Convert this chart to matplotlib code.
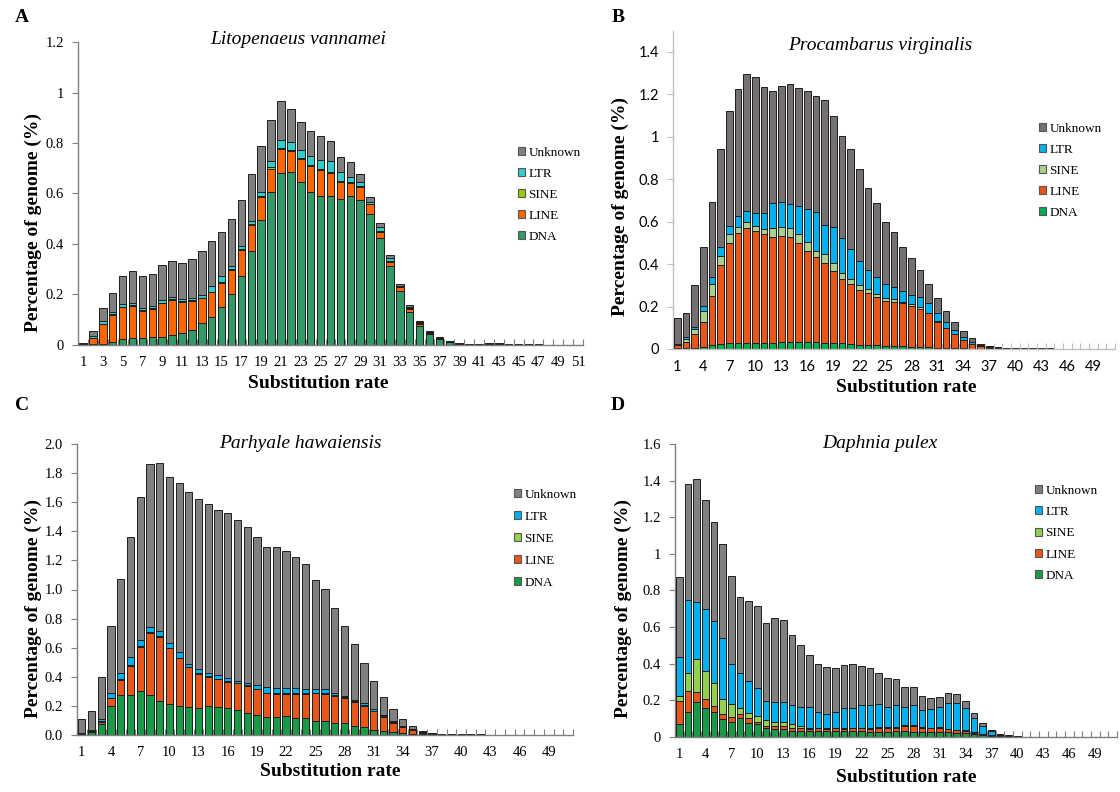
import numpy as np
import matplotlib
matplotlib.use('Agg')
import matplotlib.pyplot as plt
from matplotlib.patches import Patch

plt.rcParams['font.family'] = ['Liberation Serif', 'DejaVu Serif']

W, H = 1120, 792
rates = np.arange(1, 52)
labels = ['DNA', 'LINE', 'SINE', 'LTR', 'Unknown']

# ---- A: Litopenaeus vannamei ----
a_dna = [0.005, 0.003, 0.004, 0.01, 0.022, 0.026, 0.026, 0.03, 0.03, 0.04,
         0.046, 0.06, 0.086, 0.11, 0.15, 0.2, 0.275, 0.372, 0.495, 0.604,
         0.682, 0.686, 0.647, 0.607, 0.59, 0.59, 0.579, 0.59, 0.574, 0.517,
         0.422, 0.313, 0.215, 0.129, 0.075, 0.042, 0.022, 0.013, 0.003, 0.001,
         0.001, 0.001, 0.001, 0.001, 0.001, 0.001, 0.001, 0, 0, 0, 0]
a_line = [0, 0.023, 0.078, 0.109, 0.127, 0.128, 0.11, 0.114, 0.135, 0.14,
          0.124, 0.115, 0.099, 0.098, 0.094, 0.097, 0.101, 0.103, 0.092, 0.095,
          0.096, 0.083, 0.088, 0.102, 0.103, 0.09, 0.068, 0.053, 0.053, 0.04,
          0.026, 0.017, 0.013, 0.012, 0.01, 0.005, 0.003, 0.001, 0, 0,
          0, 0.002, 0.002, 0, 0, 0, 0, 0, 0, 0, 0]
a_sine = [0, 0.003, 0.003, 0.003, 0.003, 0.003, 0.003, 0.003, 0.003, 0.003,
          0.003, 0.003, 0.003, 0.003, 0.004, 0.004, 0.005, 0.004, 0.004, 0.004,
          0.004, 0.004, 0.004, 0.004, 0.004, 0.004, 0.004, 0.004, 0.004, 0.003,
          0.004, 0.003, 0.003, 0.004, 0.003, 0.003, 0.002, 0.001, 0, 0,
          0, 0, 0, 0, 0, 0, 0, 0, 0, 0, 0]
a_ltr = [0, 0.005, 0.009, 0.007, 0.009, 0.009, 0.009, 0.009, 0.009, 0.007,
         0.009, 0.009, 0.009, 0.022, 0.026, 0.012, 0.012, 0.012, 0.014, 0.027,
         0.03, 0.032, 0.033, 0.035, 0.036, 0.046, 0.035, 0.02, 0.016, 0.006,
         0.016, 0.01, 0.004, 0.004, 0.002, 0.001, 0, 0, 0, 0,
         0, 0, 0, 0, 0, 0, 0, 0, 0, 0, 0]
a_unknown = [0.004, 0.021, 0.054, 0.075, 0.112, 0.128, 0.125, 0.124, 0.138, 0.141,
             0.141, 0.155, 0.174, 0.179, 0.172, 0.187, 0.18, 0.186, 0.185, 0.162,
             0.154, 0.129, 0.111, 0.1, 0.093, 0.076, 0.059, 0.056, 0.032, 0.022,
             0.016, 0.012, 0.006, 0.009, 0.006, 0.004, 0.003, 0.002, 0.004, 0.003,
             0.003, 0.003, 0.003, 0.003, 0.003, 0.003, 0.003, 0, 0, 0, 0]

# ---- B: Procambarus virginalis ----
b_dna = [0.005, 0.005, 0.005, 0.008, 0.02, 0.025, 0.03, 0.03, 0.03, 0.03,
         0.03, 0.03, 0.035, 0.035, 0.035, 0.035, 0.033, 0.03, 0.028, 0.028,
         0.025, 0.02, 0.02, 0.02, 0.015, 0.015, 0.012, 0.01, 0.01, 0.008,
         0.006, 0.005, 0.004, 0.003, 0.002, 0.001, 0.001, 0.001, 0, 0,
         0, 0, 0, 0, 0, 0, 0, 0, 0, 0, 0]
b_line = [0.014, 0.03, 0.064, 0.121, 0.231, 0.371, 0.471, 0.515, 0.539, 0.528,
          0.512, 0.499, 0.499, 0.491, 0.463, 0.428, 0.402, 0.377, 0.341, 0.3,
          0.28, 0.258, 0.242, 0.226, 0.213, 0.208, 0.203, 0.193, 0.18, 0.16,
          0.123, 0.092, 0.067, 0.039, 0.022, 0.014, 0.005, 0.002, 0.001, 0,
          0, 0, 0, 0, 0, 0, 0, 0, 0, 0, 0]
b_sine = [0.003, 0.011, 0.024, 0.05, 0.055, 0.042, 0.041, 0.031, 0.028, 0.023,
          0.023, 0.04, 0.042, 0.046, 0.044, 0.043, 0.028, 0.041, 0.035, 0.029,
          0.025, 0.024, 0.019, 0.013, 0.014, 0.013, 0.008, 0.009, 0.006, 0.003,
          0.003, 0.003, 0.002, 0.002, 0.001, 0, 0, 0, 0, 0,
          0, 0, 0, 0, 0, 0, 0, 0, 0, 0, 0]
b_ltr = [0.003, 0.009, 0.012, 0.024, 0.032, 0.041, 0.039, 0.051, 0.053, 0.061,
         0.077, 0.117, 0.118, 0.111, 0.133, 0.154, 0.184, 0.136, 0.172, 0.164,
         0.14, 0.114, 0.091, 0.079, 0.064, 0.055, 0.052, 0.042, 0.048, 0.044,
         0.036, 0.029, 0.017, 0.014, 0.009, 0.004, 0.003, 0.002, 0.001, 0.001,
         0.001, 0.001, 0.001, 0.001, 0, 0, 0, 0, 0, 0, 0]
b_unknown = [0.12, 0.113, 0.197, 0.279, 0.353, 0.462, 0.542, 0.596, 0.647, 0.641,
             0.591, 0.531, 0.545, 0.566, 0.553, 0.557, 0.547, 0.589, 0.522, 0.483,
             0.474, 0.431, 0.388, 0.348, 0.294, 0.262, 0.207, 0.173, 0.128, 0.091,
             0.071, 0.05, 0.039, 0.027, 0.016, 0.005, 0.007, 0.006, 0.005, 0.004,
             0.004, 0.004, 0.004, 0.004, 0, 0, 0, 0, 0, 0, 0]

# ---- C: Parhyale hawaiensis ----
c_dna = [0.008, 0.023, 0.073, 0.2, 0.275, 0.275, 0.305, 0.275, 0.234, 0.211,
         0.2, 0.19, 0.183, 0.2, 0.195, 0.183, 0.172, 0.149, 0.137, 0.126,
         0.126, 0.13, 0.115, 0.115, 0.098, 0.098, 0.085, 0.08, 0.064, 0.057,
         0.034, 0.029, 0.02, 0.016, 0.01, 0.005, 0.002, 0.001, 0.001, 0.001,
         0.001, 0, 0, 0, 0, 0, 0, 0, 0, 0, 0]
c_line = [0.003, 0.007, 0.019, 0.052, 0.103, 0.199, 0.302, 0.428, 0.442, 0.385,
          0.327, 0.275, 0.236, 0.201, 0.188, 0.184, 0.183, 0.19, 0.177, 0.16,
          0.156, 0.152, 0.167, 0.169, 0.188, 0.184, 0.183, 0.174, 0.165, 0.143,
          0.129, 0.095, 0.065, 0.041, 0.024, 0.01, 0.002, 0, 0, 0,
          0, 0.004, 0, 0, 0, 0, 0, 0, 0, 0, 0]
c_sine = [0.002, 0.003, 0.004, 0.004, 0.004, 0.004, 0.005, 0.005, 0.005, 0.005,
          0.005, 0.005, 0.005, 0.005, 0.005, 0.005, 0.005, 0.005, 0.005, 0.006,
          0.006, 0.006, 0.006, 0.006, 0.006, 0.006, 0.005, 0.005, 0.004, 0.004,
          0.004, 0.004, 0.006, 0.005, 0.004, 0.005, 0.006, 0.003, 0.003, 0.003,
          0.003, 0, 0, 0, 0, 0, 0, 0, 0, 0, 0]
c_ltr = [0, 0.001, 0.014, 0.035, 0.046, 0.056, 0.041, 0.032, 0.036, 0.029,
         0.036, 0.018, 0.027, 0.018, 0.024, 0.018, 0.013, 0.016, 0.025, 0.036,
         0.033, 0.032, 0.032, 0.028, 0.022, 0.026, 0.013, 0.009, 0.008, 0.014,
         0.014, 0.009, 0.007, 0.002, 0.002, 0, 0, 0, 0, 0,
         0, 0, 0, 0, 0, 0, 0, 0, 0, 0, 0]
c_unknown = [0.095, 0.131, 0.286, 0.458, 0.642, 0.829, 0.985, 1.125, 1.152, 1.145,
             1.162, 1.184, 1.173, 1.166, 1.132, 1.133, 1.105, 1.072, 1.015, 0.966,
             0.973, 0.945, 0.906, 0.855, 0.751, 0.689, 0.585, 0.483, 0.384, 0.279,
             0.19, 0.126, 0.078, 0.046, 0.024, 0.01, 0.002, 0.001, 0.001, 0.001,
             0.001, 0, 0, 0, 0, 0, 0, 0, 0, 0, 0]

# ---- D: Daphnia pulex ----
d_dna = [0.067, 0.137, 0.191, 0.155, 0.133, 0.095, 0.082, 0.1, 0.073, 0.069,
         0.045, 0.04, 0.04, 0.033, 0.033, 0.033, 0.03, 0.03, 0.03, 0.03,
         0.032, 0.032, 0.028, 0.028, 0.028, 0.03, 0.03, 0.028, 0.025, 0.025,
         0.025, 0.025, 0.022, 0.02, 0.015, 0.008, 0.004, 0.002, 0.001, 0.001,
         0, 0, 0, 0, 0, 0, 0, 0, 0, 0, 0]
d_line = [0.13, 0.113, 0.051, 0.051, 0.035, 0.029, 0.024, 0.024, 0.027, 0.013,
          0.015, 0.02, 0.02, 0.017, 0.012, 0.009, 0.015, 0.012, 0.015, 0.012,
          0.015, 0.013, 0.014, 0.022, 0.022, 0.018, 0.028, 0.03, 0.023, 0.02,
          0.023, 0.015, 0.013, 0.012, 0.007, 0.004, 0.002, 0.001, 0.001, 0,
          0, 0, 0, 0, 0, 0, 0, 0, 0, 0, 0]
d_sine = [0.025, 0.096, 0.181, 0.153, 0.124, 0.08, 0.071, 0.031, 0.028, 0.031,
          0.031, 0.018, 0.022, 0.017, 0.013, 0.008, 0.005, 0.006, 0.005, 0.006,
          0.003, 0.005, 0.004, 0.003, 0.003, 0.004, 0.004, 0.004, 0.004, 0.003,
          0.004, 0.004, 0.003, 0.003, 0.002, 0.001, 0.001, 0.001, 0.001, 0.001,
          0, 0, 0, 0, 0, 0, 0, 0, 0, 0, 0]
d_ltr = [0.215, 0.401, 0.312, 0.339, 0.341, 0.334, 0.22, 0.191, 0.176, 0.155,
         0.104, 0.11, 0.106, 0.106, 0.102, 0.11, 0.087, 0.074, 0.087, 0.111,
         0.109, 0.123, 0.127, 0.124, 0.111, 0.121, 0.102, 0.111, 0.094, 0.102,
         0.112, 0.139, 0.145, 0.122, 0.078, 0.047, 0.023, 0.004, 0.002, 0.001,
         0, 0, 0, 0, 0, 0, 0, 0, 0, 0, 0]
d_unknown = [0.434, 0.635, 0.674, 0.596, 0.543, 0.516, 0.482, 0.416, 0.438, 0.448,
             0.425, 0.459, 0.45, 0.383, 0.341, 0.287, 0.259, 0.261, 0.24, 0.233,
             0.238, 0.213, 0.204, 0.173, 0.155, 0.142, 0.109, 0.1, 0.077, 0.06,
             0.053, 0.054, 0.05, 0.04, 0.026, 0.013, 0.006, 0.007, 0.004, 0.001,
             0, 0, 0, 0, 0, 0, 0, 0, 0, 0, 0]

colors_a = ['#339966', '#FF6600', '#99CC00', '#33CCCC', '#808080']
colors_b = ['#00B050', '#E8561A', '#A9D18E', '#00B0F0', '#767171']
colors_c = ['#1A9A48', '#E8561C', '#92D050', '#00B0F0', '#808080']
colors_d = ['#1A9A48', '#E8561C', '#92D050', '#00B0F0', '#808080']


def px_rect(left, top, right, bottom):
    return [left / W, 1 - bottom / H, (right - left) / W, (bottom - top) / H]


def ftext(fig, x, y, s, **kw):
    fig.text(x / W, 1 - y / H, s, ha='center', va='center', **kw)


def draw_panel(fig, rect, series, colors, width, ylim, yticks, yticklabels,
               xtick_step, tick_font, spine_color, legend_xy, legend_space):
    ax = fig.add_axes(rect)
    bottom = np.zeros(len(rates))
    for vals, col in zip(series, colors):
        vals = np.asarray(vals)
        ax.bar(rates, vals, width=width, bottom=bottom, color=col,
               edgecolor='#1e1e1e', linewidth=0.7, zorder=3)
        bottom += vals

    ax.set_xlim(0.5, len(rates) + 0.5)
    ax.set_ylim(*ylim)
    ax.set_yticks(yticks)
    ax.set_yticklabels(yticklabels, fontfamily=tick_font, fontsize=10.5)
    xt = rates[::xtick_step]
    ax.set_xticks(xt)
    ax.set_xticklabels([str(v) for v in xt], fontfamily=tick_font, fontsize=10.5)
    ax.set_xticks(np.arange(0.5, len(rates) + 1, 1.0), minor=True)
    ax.tick_params(axis='x', which='major', length=0, pad=8)
    ax.tick_params(axis='x', which='minor', length=4, direction='in',
                   color=spine_color, width=0.8)
    ax.tick_params(axis='y', length=4, direction='out', color=spine_color,
                   width=0.8, pad=6)
    for s in ['top', 'right']:
        ax.spines[s].set_visible(False)
    for s in ['left', 'bottom']:
        ax.spines[s].set_color(spine_color)
        ax.spines[s].set_linewidth(1.0)
    ax.spines['bottom'].set_zorder(4)

    # legend lists the top of the stack first
    handles = [Patch(facecolor=c, edgecolor='#555555', linewidth=0.8) for c in colors]
    ax.legend(handles[::-1], labels[::-1], loc='upper left',
              bbox_to_anchor=(legend_xy[0] / W, 1 - legend_xy[1] / H),
              bbox_transform=fig.transFigure, frameon=False,
              handlelength=0.55, handleheight=0.55, handletextpad=0.25,
              labelspacing=legend_space,
              prop={'family': 'Liberation Serif', 'size': 9.5})
    return ax


fig = plt.figure(figsize=(W / 100, H / 100), dpi=100)

# panel A
draw_panel(fig, px_rect(78, 42, 583, 345),
           [a_dna, a_line, a_sine, a_ltr, a_unknown], colors_a, 0.76,
           (0, 1.2), np.arange(0, 1.21, 0.2),
           ['0', '0.2', '0.4', '0.6', '0.8', '1', '1.2'],
           2, 'Liberation Serif', '#7f7f7f', (506, 135), 0.68)
ftext(fig, 298, 40, 'Litopenaeus vannamei', fontsize=14, style='italic')
ftext(fig, 33, 222, 'Percentage of genome (%)', fontsize=14, weight='bold', rotation=90)
ftext(fig, 318, 383, 'Substitution rate', fontsize=14, weight='bold')
ftext(fig, 22, 18, 'A', fontsize=14, weight='bold')

# panel B
draw_panel(fig, px_rect(673, 30.6, 1115, 349),
           [b_dna, b_line, b_sine, b_ltr, b_unknown], colors_b, 0.8,
           (0, 1.5), np.arange(0, 1.41, 0.2),
           ['0', '0.2', '0.4', '0.6', '0.8', '1', '1.2', '1.4'],
           3, 'Lato', '#bfbfbf', (1027, 111), 0.68)
ftext(fig, 880, 45, 'Procambarus virginalis', fontsize=14, style='italic')
ftext(fig, 620, 207, 'Percentage of genome (%)', fontsize=14, weight='bold', rotation=90)
ftext(fig, 906, 388, 'Substitution rate', fontsize=14, weight='bold')
ftext(fig, 618, 18, 'B', fontsize=14, weight='bold')

# panel C
draw_panel(fig, px_rect(77, 444, 573, 735),
           [c_dna, c_line, c_sine, c_ltr, c_unknown], colors_c, 0.74,
           (0, 2.0), np.arange(0, 2.01, 0.2),
           ['%.1f' % v for v in np.arange(0, 2.01, 0.2)],
           3, 'Liberation Serif', '#7f7f7f', (502, 477), 0.76)
ftext(fig, 300, 443, 'Parhyale hawaiensis', fontsize=14, style='italic')
ftext(fig, 33, 608, 'Percentage of genome (%)', fontsize=14, weight='bold', rotation=90)
ftext(fig, 330, 772, 'Substitution rate', fontsize=14, weight='bold')
ftext(fig, 22, 405, 'C', fontsize=14, weight='bold')

# panel D
draw_panel(fig, px_rect(675, 444, 1117, 736.7),
           [d_dna, d_line, d_sine, d_ltr, d_unknown], colors_d, 0.78,
           (0, 1.6), np.arange(0, 1.61, 0.2),
           ['0', '0.2', '0.4', '0.6', '0.8', '1', '1.2', '1.4', '1.6'],
           3, 'Liberation Serif', '#7f7f7f', (1023, 473), 0.7)
ftext(fig, 880, 443, 'Daphnia pulex', fontsize=14, style='italic')
ftext(fig, 623, 608, 'Percentage of genome (%)', fontsize=14, weight='bold', rotation=90)
ftext(fig, 906, 778, 'Substitution rate', fontsize=14, weight='bold')
ftext(fig, 618, 405, 'D', fontsize=14, weight='bold')

fig.savefig('out.png', dpi=100)
